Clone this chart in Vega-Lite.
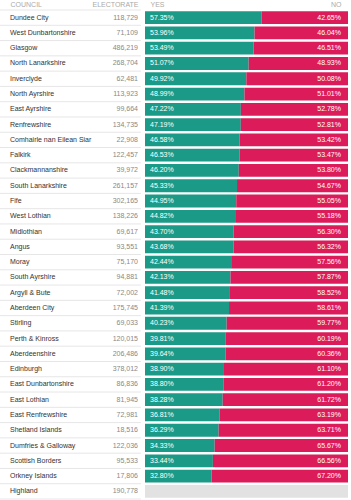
{
  "$schema": "https://vega.github.io/schema/vega-lite/v6.json",
  "width": 351,
  "height": 489,
  "autosize": {"type": "none"},
  "padding": {"top": 10, "left": 0, "right": 0, "bottom": 1},
  "background": "white",
  "config": {"view": {"stroke": null}, "font": "Liberation Sans"},
  "data": {
    "values": [
      {"council": "Dundee City", "electorate": 118729, "yes": 0.5735, "no": 0.4265},
      {"council": "West Dunbartonshire", "electorate": 71109, "yes": 0.5396, "no": 0.4604},
      {"council": "Glasgow", "electorate": 486219, "yes": 0.5349, "no": 0.4651},
      {"council": "North Lanarkshire", "electorate": 268704, "yes": 0.5107, "no": 0.4893},
      {"council": "Inverclyde", "electorate": 62481, "yes": 0.4992, "no": 0.5008},
      {"council": "North Ayrshire", "electorate": 113923, "yes": 0.4899, "no": 0.5101},
      {"council": "East Ayrshire", "electorate": 99664, "yes": 0.4722, "no": 0.5278},
      {"council": "Renfrewshire", "electorate": 134735, "yes": 0.4719, "no": 0.5281},
      {"council": "Comhairle nan Eilean Siar", "electorate": 22908, "yes": 0.4658, "no": 0.5342},
      {"council": "Falkirk", "electorate": 122457, "yes": 0.4653, "no": 0.5347},
      {"council": "Clackmannanshire", "electorate": 39972, "yes": 0.4620, "no": 0.5380},
      {"council": "South Lanarkshire", "electorate": 261157, "yes": 0.4533, "no": 0.5467},
      {"council": "Fife", "electorate": 302165, "yes": 0.4495, "no": 0.5505},
      {"council": "West Lothian", "electorate": 138226, "yes": 0.4482, "no": 0.5518},
      {"council": "Midlothian", "electorate": 69617, "yes": 0.4370, "no": 0.5630},
      {"council": "Angus", "electorate": 93551, "yes": 0.4368, "no": 0.5632},
      {"council": "Moray", "electorate": 75170, "yes": 0.4244, "no": 0.5756},
      {"council": "South Ayrshire", "electorate": 94881, "yes": 0.4213, "no": 0.5787},
      {"council": "Argyll & Bute", "electorate": 72002, "yes": 0.4148, "no": 0.5852},
      {"council": "Aberdeen City", "electorate": 175745, "yes": 0.4139, "no": 0.5861},
      {"council": "Stirling", "electorate": 69033, "yes": 0.4023, "no": 0.5977},
      {"council": "Perth & Kinross", "electorate": 120015, "yes": 0.3981, "no": 0.6019},
      {"council": "Aberdeenshire", "electorate": 206486, "yes": 0.3964, "no": 0.6036},
      {"council": "Edinburgh", "electorate": 378012, "yes": 0.3890, "no": 0.6110},
      {"council": "East Dunbartonshire", "electorate": 86836, "yes": 0.3880, "no": 0.6120},
      {"council": "East Lothian", "electorate": 81945, "yes": 0.3828, "no": 0.6172},
      {"council": "East Renfrewshire", "electorate": 72981, "yes": 0.3681, "no": 0.6319},
      {"council": "Shetland Islands", "electorate": 18516, "yes": 0.3629, "no": 0.6371},
      {"council": "Dumfries & Galloway", "electorate": 122036, "yes": 0.3433, "no": 0.6567},
      {"council": "Scottish Borders", "electorate": 95533, "yes": 0.3344, "no": 0.6656},
      {"council": "Orkney Islands", "electorate": 17806, "yes": 0.3280, "no": 0.6720},
      {"council": "Highland", "electorate": 190778, "yes": null, "no": null}
    ]
  },
  "encoding": {
    "y": {"field": "council", "type": "nominal", "sort": null, "axis": null, "scale": {"paddingInner": 0, "paddingOuter": 0}}
  },
  "layer": [
    {
      "mark": {"type": "bar", "color": "#1b9a87", "height": {"band": 0.84}},
      "encoding": {
        "x": {
          "field": "yes",
          "type": "quantitative",
          "scale": {"domain": [-0.71429, 1.01478], "nice": false, "zero": false},
          "axis": {
            "orient": "top",
            "values": [-0.665, -0.0345, 0.0246, 0.9655],
            "labelExpr": "datum.value < -0.5 ? 'COUNCIL' : datum.value < 0 ? 'ELECTORATE' : datum.value < 0.5 ? 'YES' : 'NO'",
            "labelAlign": {"condition": {"test": "datum.value < -0.5 || (datum.value > 0 && datum.value < 0.5)", "value": "left"}, "value": "right"},
            "domain": false,
            "ticks": false,
            "tickSize": 0,
            "grid": false,
            "title": null,
            "labelFontSize": 7,
            "labelColor": "#aaaaaa",
            "labelPadding": 3,
            "labelFlush": false,
            "labelOverlap": false,
            "labelBound": false
          }
        },
        "x2": {"datum": 0}
      }
    },
    {
      "mark": {"type": "bar", "color": "#dc1c5a", "height": {"band": 0.84}},
      "encoding": {
        "x": {"field": "yes", "type": "quantitative"},
        "x2": {"datum": 1}
      }
    },
    {
      "mark": {"type": "bar", "color": "#e2e2e2", "height": {"band": 0.84}},
      "transform": [{"filter": "datum.yes == null"}],
      "encoding": {
        "x": {"datum": 0, "type": "quantitative"},
        "x2": {"datum": 1}
      }
    },
    {
      "mark": {"type": "rule", "color": "#e6e6e6", "strokeWidth": 1},
      "encoding": {
        "y": {"field": "council", "type": "nominal", "sort": null, "bandPosition": 0},
        "x": {"datum": -0.7143, "type": "quantitative"},
        "x2": {"datum": -0.02}
      }
    },
    {
      "mark": {"type": "rule", "color": "#e6e6e6", "strokeWidth": 1},
      "transform": [{"filter": "datum.council === 'Highland'"}],
      "encoding": {
        "y": {"field": "council", "type": "nominal", "sort": null, "bandPosition": 1},
        "x": {"datum": -0.7143, "type": "quantitative"},
        "x2": {"datum": -0.02}
      }
    },
    {
      "mark": {"type": "text", "align": "left", "baseline": "middle", "fontSize": 7, "color": "#333333"},
      "encoding": {
        "x": {"datum": -0.665, "type": "quantitative"},
        "text": {"field": "council", "type": "nominal"}
      }
    },
    {
      "mark": {"type": "text", "align": "right", "baseline": "middle", "fontSize": 7, "color": "#888888"},
      "encoding": {
        "x": {"datum": -0.0345, "type": "quantitative"},
        "text": {"field": "electorate", "type": "quantitative", "format": ",d"}
      }
    },
    {
      "mark": {"type": "text", "align": "left", "baseline": "middle", "fontSize": 7, "color": "white"},
      "transform": [{"filter": "datum.yes != null"}],
      "encoding": {
        "x": {"datum": 0.0246, "type": "quantitative"},
        "text": {"field": "yes", "type": "quantitative", "format": ".2%"}
      }
    },
    {
      "mark": {"type": "text", "align": "right", "baseline": "middle", "fontSize": 7, "color": "white"},
      "transform": [{"filter": "datum.no != null"}],
      "encoding": {
        "x": {"datum": 0.9655, "type": "quantitative"},
        "text": {"field": "no", "type": "quantitative", "format": ".2%"}
      }
    }
  ]
}
